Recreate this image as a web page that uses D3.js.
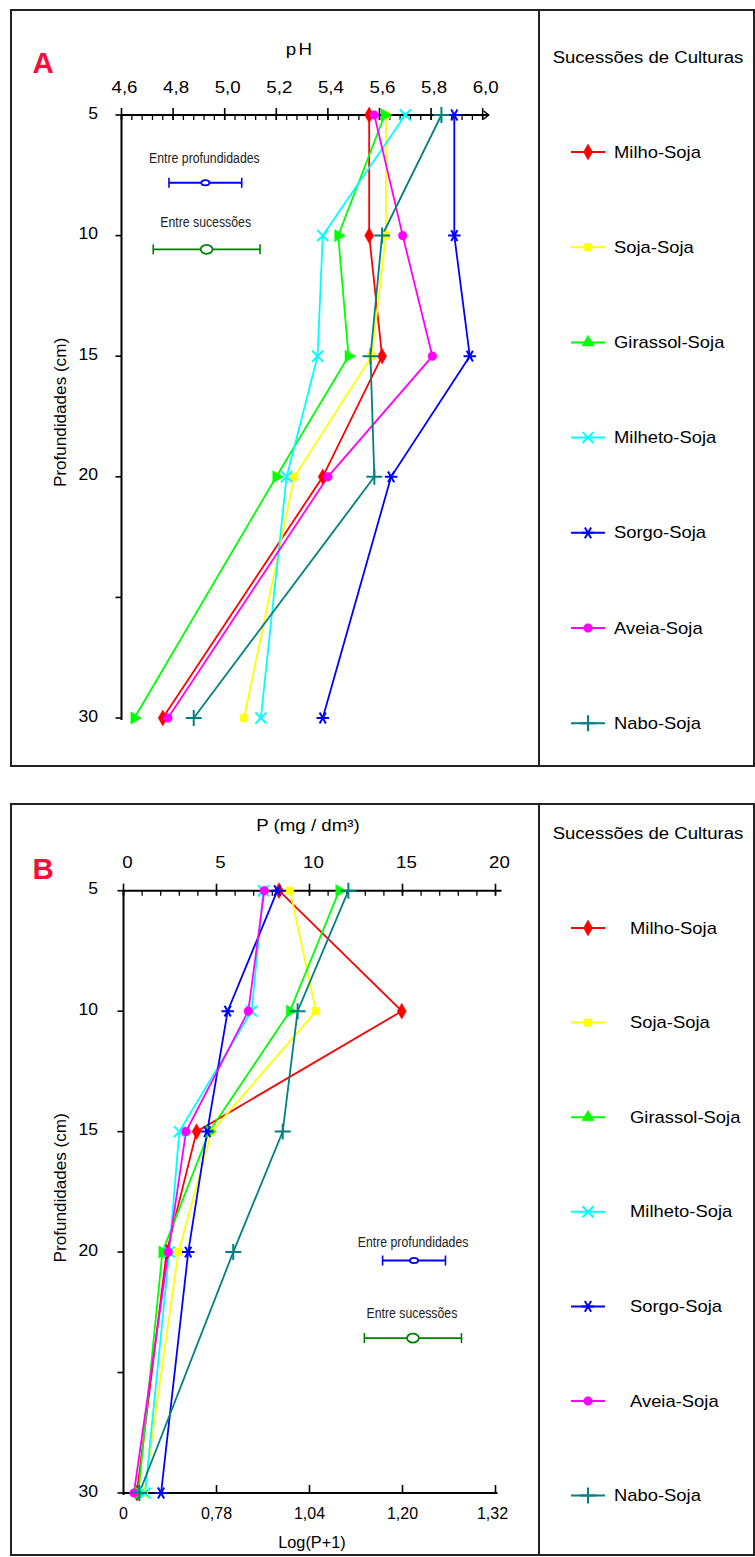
<!DOCTYPE html>
<html><head><meta charset="utf-8">
<script src="https://cdn.jsdelivr.net/npm/d3@7"></script>
<style>body{margin:0;background:#fff}svg{display:block}text{font-family:"Liberation Sans",Arial,sans-serif}</style>
</head><body>
<script>
// ---------- DATA ----------
const depths = [5, 10, 15, 20, 30];
const depthTicks = [5, 10, 15, 20, 25, 30];
const depthLabels = ["5", "10", "15", "20", "", "30"];
const seriesNames = ["Milho-Soja", "Soja-Soja", "Girassol-Soja", "Milheto-Soja", "Sorgo-Soja", "Aveia-Soja", "Nabo-Soja"];
const seriesColors = ["#ff0000", "#ffff00", "#00ff00", "#00ffff", "#0000ff", "#ff00ff", "#008080"];
const seriesMarkers = ["diamond", "square", "triangle", "times", "asterisk", "circle", "plus"];

// Panel A: pH
const phMilho    = [5.56, 5.56, 5.61, 5.38, 4.76];
const phSoja     = [5.625, 5.625, 5.57, 5.27, 5.075];
const phGirassol = [5.62, 5.44, 5.48, 5.20, 4.65];
const phMilheto  = [5.70, 5.38, 5.36, 5.24, 5.14];
const phSorgo    = [5.89, 5.89, 5.95, 5.645, 5.38];
const phAveia    = [5.58, 5.69, 5.805, 5.40, 4.78];
const phNabo     = [5.84, 5.61, 5.565, 5.58, 4.88];
const phTicks = [4.6, 4.8, 5.0, 5.2, 5.4, 5.6, 5.8, 6.0];
const phTickLabels = ["4,6", "4,8", "5,0", "5,2", "5,4", "5,6", "5,8", "6,0"];

// Panel B: P (mg/dm3)
const pMilho    = [8.36, 14.96, 3.93, 2.32, 0.72];
const pSoja     = [8.95, 10.35, 4.74, 2.95, 1.12];
const pGirassol = [11.6, 8.95, 4.61, 2.09, 0.80];
const pMilheto  = [7.52, 6.89, 3.00, 2.46, 1.16];
const pSorgo    = [8.27, 5.60, 4.50, 3.48, 2.02];
const pAveia    = [7.57, 6.71, 3.36, 2.41, 0.56];
const pNabo     = [12.09, 9.36, 8.56, 5.90, 0.85];
const pTicks = [0, 5, 10, 15, 20];
const pTickLabels = ["0", "5", "10", "15", "20"];
const logTickLabels = ["0", "0,78", "1,04", "1,20", "1,32"];

// error-bar keys (value units, depth units)
const errLabels = ["Entre profundidades", "Entre sucessões"];
const errColors = ["#0000ff", "#008000"];
const errA_center = [4.925, 4.93], errA_half = [0.141, 0.207], errA_depth = [7.81, 10.57], errA_textDepth = [6.78, 9.42];
const errB_center = [15.62, 15.56], errB_half = [1.69, 2.61], errB_depth = [20.35, 23.57], errB_textDepth = [19.55, 22.5];

// ---------- DRAW ----------
const svg = d3.select("body").append("svg").attr("width", 755).attr("height", 1557);
svg.append("rect").attr("width", 755).attr("height", 1557).attr("fill", "#fff");

function stext(p, x, y, s, o = {}) {
  const g = p.append("g").attr("transform", `translate(${x},${y})${o.rot ? ` rotate(${o.rot})` : ""} scale(${o.sx || 1},1)`);
  return g.append("text").attr("text-anchor", o.anchor || "middle").attr("dy", "0.35em")
    .attr("font-size", o.size || 16).attr("font-weight", o.weight || "normal")
    .attr("fill", o.fill || "#000").text(s);
}

function marker(p, type, x, y, color, legend) {
  let sym, filled = true, size = 55;
  if (type === "diamond") { sym = d3.symbolDiamond; size = 72; }
  else if (type === "square") { sym = d3.symbolSquare; size = 55; }
  else if (type === "triangle") { sym = d3.symbolTriangle; size = 65; }
  else if (type === "circle") { sym = d3.symbolCircle; size = 60; }
  else if (type === "times") { sym = d3.symbolTimes; filled = false; size = 80; }
  else if (type === "asterisk") { sym = d3.symbolAsterisk; filled = false; size = 110; }
  else { sym = d3.symbolPlus; filled = false; size = 85; }
  const rot = (type === "triangle" && !legend) ? 90 : (type === "asterisk" ? 90 : 0);
  p.append("path").attr("d", d3.symbol(sym, size)())
    .attr("transform", `translate(${x},${y}) rotate(${rot})`)
    .attr("fill", filled ? color : "none")
    .attr("stroke", color).attr("stroke-width", filled ? 0.5 : 2);
}

function drawPanel(cfg) {
  const g = svg.append("g");
  const { x, y } = cfg;
  // frame
  g.append("rect").attr("x", 11).attr("y", cfg.boxTop).attr("width", 743).attr("height", cfg.boxBottom - cfg.boxTop)
    .attr("fill", "none").attr("stroke", "#222").attr("stroke-width", 2);
  g.append("line").attr("x1", 539).attr("x2", 539).attr("y1", cfg.boxTop).attr("y2", cfg.boxBottom)
    .attr("stroke", "#222").attr("stroke-width", 2);

  // panel letter & title
  stext(g, 43, cfg.letterY, cfg.letter, { size: 30, weight: "bold", fill: "#ff0a3c", sx: 0.98 });
  stext(g, cfg.titleX, cfg.titleY, cfg.title, { size: 16, sx: 1.17 }).attr("letter-spacing", cfg.titleLS || 0);

  const x0 = x.range()[0], y0 = y(5), yEnd = y(30);
  // top axis
  const [d0, d1] = x.domain();
  g.append("line").attr("x1", x0).attr("x2", x(d1) + 6).attr("y1", y0).attr("y2", y0).attr("stroke", "#000").attr("stroke-width", 2);
  const minors = d3.range(0, Math.round((d1 - d0) / cfg.minorStep) + 1).map(i => d0 + i * cfg.minorStep);
  g.selectAll(null).data(minors).join("line")
    .attr("x1", d => x(d)).attr("x2", d => x(d)).attr("y1", y0).attr("y2", y0 + 5)
    .attr("stroke", "#000").attr("stroke-width", 1.3);
  g.selectAll(null).data(cfg.majorTicks).join("line")
    .attr("x1", d => x(d)).attr("x2", d => x(d)).attr("y1", y0 - 7).attr("y2", y0 + 5)
    .attr("stroke", "#000").attr("stroke-width", 1.6);
  cfg.majorTicks.forEach((d, i) => stext(g, x(d) + cfg.labelDx, y0 - 28, cfg.majorLabels[i], { size: 16, sx: 1.17 }));
  if (cfg.arrow) {
    const xe = x(d1) + 6;
    g.append("path").attr("d", `M${xe - 5},${y0 - 4}L${xe},${y0}L${xe - 5},${y0 + 4}`).attr("fill", "none").attr("stroke", "#000").attr("stroke-width", 1.5);
  }
  // y axis
  g.append("line").attr("x1", x0).attr("x2", x0).attr("y1", y0).attr("y2", yEnd + 2).attr("stroke", "#000").attr("stroke-width", 2);
  g.selectAll(null).data(depthTicks).join("line")
    .attr("x1", x0 - 6).attr("x2", x0).attr("y1", d => y(d)).attr("y2", d => y(d))
    .attr("stroke", "#000").attr("stroke-width", 1.6);
  depthTicks.forEach((d, i) => { if (depthLabels[i]) stext(g, 98, y(d) - 2, depthLabels[i], { size: 16, anchor: "end", sx: 1.1 }); });
  stext(g, 60, (y0 + yEnd) / 2 - 4, "Profundidades (cm)", { size: 16, rot: -90, sx: 1.07 });

  // bottom axis (panel B)
  if (cfg.bottomLabels) {
    g.append("line").attr("x1", x0).attr("x2", x(d1) + 2).attr("y1", yEnd).attr("y2", yEnd).attr("stroke", "#000").attr("stroke-width", 2);
    g.selectAll(null).data(cfg.majorTicks.slice(1)).join("line")
      .attr("x1", d => x(d)).attr("x2", d => x(d)).attr("y1", yEnd - 8).attr("y2", yEnd)
      .attr("stroke", "#000").attr("stroke-width", 1.6);
    cfg.majorTicks.forEach((d, i) => stext(g, x(d) + (i === 4 ? -3 : 0), yEnd + 20, cfg.bottomLabels[i], { size: 16, sx: 1.0 }));
    stext(g, 312, yEnd + 49, "Log(P+1)", { size: 16, sx: 1.02 });
  }

  // series
  const line = d3.line().x(d => x(d[0])).y(d => y(d[1]));
  cfg.series.forEach((vals, si) => {
    const pts = vals.map((v, i) => [v, depths[i]]);
    g.append("path").attr("d", line(pts)).attr("fill", "none").attr("stroke", seriesColors[si]).attr("stroke-width", 1.8);
  });
  cfg.series.forEach((vals, si) => {
    vals.forEach((v, i) => marker(g, seriesMarkers[si], x(v), y(depths[i]), seriesColors[si], false));
  });

  // error keys
  errLabels.forEach((lab, i) => {
    const c = cfg.errCenter[i], h = cfg.errHalf[i], yy = y(cfg.errDepth[i]);
    stext(g, x(c) - 1, y(cfg.errTextDepth[i]), lab, { size: 15, sx: 0.82, fill: "#222" });
    g.append("line").attr("x1", x(c - h)).attr("x2", x(c + h)).attr("y1", yy).attr("y2", yy).attr("stroke", errColors[i]).attr("stroke-width", i === 0 ? 2 : 1.6);
    [c - h, c + h].forEach(e => g.append("line").attr("x1", x(e)).attr("x2", x(e)).attr("y1", yy - 5).attr("y2", yy + 5).attr("stroke", errColors[i]).attr("stroke-width", 1.6));
    g.append("ellipse").attr("cx", x(c)).attr("cy", yy).attr("rx", i === 0 ? 4 : 6).attr("ry", i === 0 ? 2.6 : 4.5)
      .attr("fill", "#fff").attr("stroke", errColors[i]).attr("stroke-width", 1.8);
  });

  // legend
  stext(g, 648, cfg.legTitleY, "Sucessões de Culturas", { size: 16, sx: 1.16 });
  seriesNames.forEach((nm, i) => {
    const ly = cfg.legY0 + i * cfg.legStep;
    g.append("line").attr("x1", 571).attr("x2", 605).attr("y1", ly).attr("y2", ly).attr("stroke", seriesColors[i]).attr("stroke-width", 2);
    marker(g, seriesMarkers[i], 588, ly, seriesColors[i], true);
    stext(g, cfg.legTextX[i], ly, nm, { size: 16, anchor: "start", sx: 1.15 });
  });
}

const xA = d3.scaleLinear().domain([4.6, 6.0]).range([121.5, 482.7]);
const yA = d3.scaleLinear().domain([5, 30]).range([115, 718]);
drawPanel({
  x: xA, y: yA, boxTop: 10, boxBottom: 766, letter: "A", letterY: 62,
  title: "pH", titleX: 300, titleY: 49, titleLS: 2,
  majorTicks: phTicks, majorLabels: phTickLabels, minorStep: 0.04, labelDx: 3, arrow: true,
  series: [phMilho, phSoja, phGirassol, phMilheto, phSorgo, phAveia, phNabo],
  errCenter: errA_center, errHalf: errA_half, errDepth: errA_depth, errTextDepth: errA_textDepth,
  legTitleY: 57, legY0: 152, legStep: 95.2, legTextX: [614, 614, 614, 614, 614, 614, 614]
});

const xB = d3.scaleLinear().domain([0, 20]).range([123.5, 495.5]);
const yB = d3.scaleLinear().domain([5, 30]).range([890.7, 1493]);
drawPanel({
  x: xB, y: yB, boxTop: 804, boxBottom: 1555, letter: "B", letterY: 868,
  title: "P (mg / dm³)", titleX: 308, titleY: 825,
  majorTicks: pTicks, majorLabels: pTickLabels, minorStep: 1, labelDx: 4, arrow: false,
  bottomLabels: logTickLabels,
  series: [pMilho, pSoja, pGirassol, pMilheto, pSorgo, pAveia, pNabo],
  errCenter: errB_center, errHalf: errB_half, errDepth: errB_depth, errTextDepth: errB_textDepth,
  legTitleY: 833, legY0: 928, legStep: 94.6, legTextX: [630, 630, 630, 630, 630, 630, 614]
});
</script>
</body></html>
